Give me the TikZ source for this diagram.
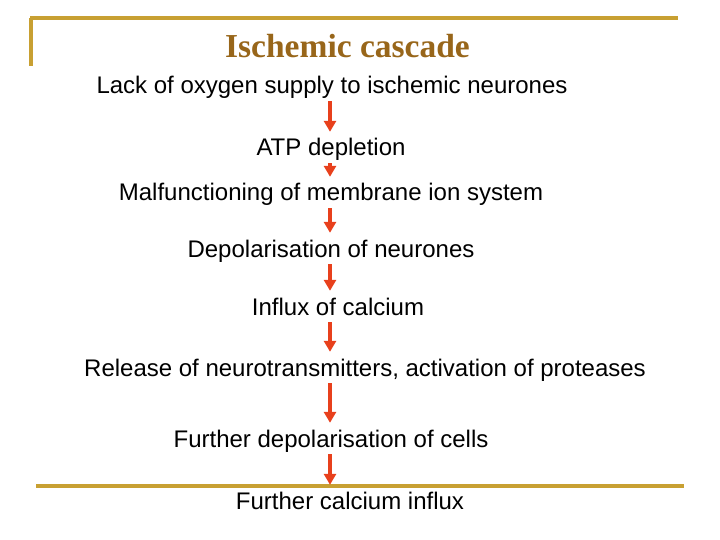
\documentclass[tikz,border=0pt]{standalone}
\usepackage{fontspec}
\setmainfont{Liberation Sans}
\newfontfamily\titlefont{Liberation Serif}
\usepackage{tikz}
\usetikzlibrary{arrows.meta}

\definecolor{rulegold}{RGB}{200,160,50}
\definecolor{titlebrown}{RGB}{152,102,26}
\definecolor{arrowred}{RGB}{232,64,28}

\begin{document}
\begin{tikzpicture}[x=1pt,y=-1pt,
    stage/.style={anchor=base,inner xsep=0pt,inner ysep=1pt,
                  text height=17pt,text depth=4pt,
                  font=\fontsize{24}{28}\selectfont},
    flow/.style={-{Triangle[width=12pt,length=11pt]},line width=4pt,
                 draw=arrowred,shorten <=2pt,shorten >=6pt},
    goldrule/.style={draw=rulegold,line width=3.5pt}]
  \useasboundingbox (0,0) rectangle (720,540);

  % frame lines
  \draw[goldrule] (30,18) -- (678,18);
  \draw[goldrule] (31,18) -- (31,66);
  \draw[goldrule] (36,486) -- (684,486);

  \node[anchor=base,font=\titlefont\bfseries\fontsize{33.5}{38}\selectfont,
        text=titlebrown] (title) at (347.5,58) {Ischemic cascade};

  \coordinate (axis) at (330,0);

  \node[stage] (lack)    at (332,94)  {Lack of oxygen supply to ischemic neurones};
  \node[stage] (atp)     at (331,156) {ATP depletion};
  \node[stage] (malf)    at (331,201) {Malfunctioning of membrane ion system};
  \node[stage] (depol)   at (331,257) {Depolarisation of neurones};
  \node[stage] (influx)  at (338,315) {Influx of calcium};
  \node[stage] (release) at (365,376) {Release of neurotransmitters, activation of proteases};
  \node[stage] (further) at (331,447) {Further depolarisation of cells};
  \node[stage] (calcium) at (350,509) {Further calcium influx};

  \draw[flow] (lack.south -| axis)    -- (atp.north -| axis);
  \draw[flow] (atp.south -| axis)     -- (malf.north -| axis);
  \draw[flow] (malf.south -| axis)    -- (depol.north -| axis);
  \draw[flow] (depol.south -| axis)   -- (influx.north -| axis);
  \draw[flow] (influx.south -| axis)  -- (release.north -| axis);
  \draw[flow] (release.south -| axis) -- (further.north -| axis);
  \draw[flow] (further.south -| axis) -- (calcium.north -| axis);
\end{tikzpicture}
\end{document}
